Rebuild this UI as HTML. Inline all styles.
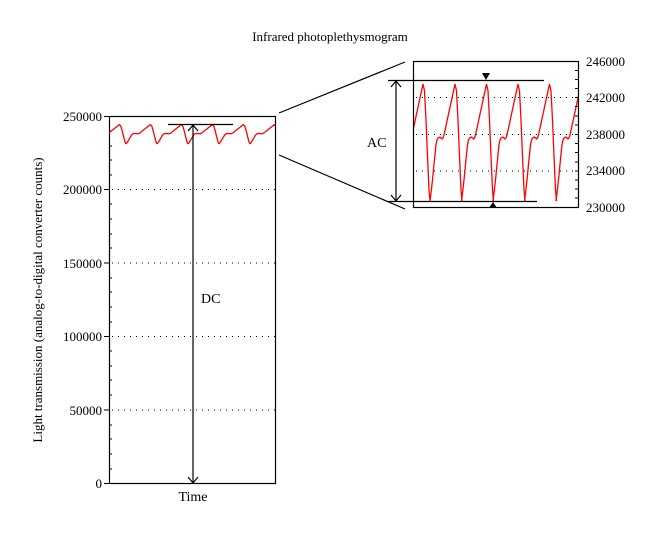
<!DOCTYPE html>
<html><head><meta charset="utf-8"><style>
body{margin:0;background:#fff}
text{font-family:"Liberation Serif",serif;fill:#000}
</style></head><body>
<svg width="660" height="533" xmlns="http://www.w3.org/2000/svg">
<defs>
<path id="w" d="M0,0 L1.5,-12 L3,-26 L4.5,-42 L6,-56 L7,-61 L8,-63 L10,-64 L12,-62 L13,-63 L14,-66 L25,-117 L26.5,-110 L28,-81 L29.5,-45 L31,-11 L32,0" fill="none" stroke="#f00" stroke-width="1.3" vector-effect="non-scaling-stroke"/>
<clipPath id="cl"><rect x="109" y="100" width="166" height="60"/></clipPath>
<clipPath id="cr"><rect x="413" y="61" width="165" height="147"/></clipPath>
</defs>
<text x="330" y="41" font-size="13" text-anchor="middle">Infrared photoplethysmogram</text>
<g stroke="#000" stroke-dasharray="1,5" stroke-width="1">
<line x1="112" y1="189.5" x2="275" y2="189.5"/><line x1="112" y1="263" x2="275" y2="263"/>
<line x1="112" y1="336.5" x2="275" y2="336.5"/><line x1="112" y1="410" x2="275" y2="410"/>
</g>
<rect x="109.5" y="116.5" width="166" height="367" fill="none" stroke="#000" stroke-width="1.2"/>
<g stroke="#000">
<line x1="104" y1="116.5" x2="109" y2="116.5"/><line x1="104" y1="189.5" x2="109" y2="189.5"/><line x1="104" y1="263" x2="109" y2="263"/><line x1="104" y1="336.5" x2="109" y2="336.5"/><line x1="104" y1="410" x2="109" y2="410"/><line x1="104" y1="483.5" x2="109" y2="483.5"/>
<path d="M109,131h3M109,146h3M109,160h3M109,175h3M109,204h3M109,219h3M109,234h3M109,248h3M109,278h3M109,292h3M109,307h3M109,322h3M109,351h3M109,366h3M109,380h3M109,395h3M109,425h3M109,439h3M109,454h3M109,469h3"/>
</g>
<g font-size="13" text-anchor="end">
<text x="102" y="121">250000</text><text x="102" y="194">200000</text><text x="102" y="268">150000</text>
<text x="102" y="341">100000</text><text x="102" y="415">50000</text><text x="102" y="488">0</text>
</g>
<g clip-path="url(#cl)">
<g transform="translate(64,144) scale(0.97,0.165)"><use href="#w"/></g>
<g transform="translate(95,144) scale(0.97,0.165)"><use href="#w"/></g>
<g transform="translate(126,144) scale(0.97,0.165)"><use href="#w"/></g>
<g transform="translate(157,144) scale(0.97,0.165)"><use href="#w"/></g>
<g transform="translate(188,144) scale(0.97,0.165)"><use href="#w"/></g>
<g transform="translate(219,144) scale(0.97,0.165)"><use href="#w"/></g>
<g transform="translate(250,144) scale(0.97,0.165)"><use href="#w"/></g>
</g>
<g stroke="#000" fill="none" stroke-width="1.2">
<line x1="168" y1="124.5" x2="233" y2="124.5"/>
<line x1="193" y1="125" x2="193" y2="483"/>
<path d="M188,131 L193,125 L198,131 M188,477 L193,483 L198,477"/>
</g>
<text x="201" y="303" font-size="14">DC</text>
<text x="193" y="501" font-size="14" text-anchor="middle">Time</text>
<text transform="translate(42,300) rotate(-90)" font-size="13" text-anchor="middle">Light transmission (analog-to-digital converter counts)</text>
<g stroke="#000" stroke-width="1.2">
<line x1="279" y1="113" x2="405" y2="62"/><line x1="279" y1="155" x2="405" y2="209"/>
</g>
<g stroke="#000" stroke-dasharray="1,5">
<line x1="416" y1="97.5" x2="578" y2="97.5"/><line x1="416" y1="134.5" x2="578" y2="134.5"/><line x1="416" y1="171" x2="578" y2="171"/>
</g>
<g clip-path="url(#cr)">
<use href="#w" transform="translate(398,201)"/>
<use href="#w" transform="translate(430,201)"/>
<use href="#w" transform="translate(461.5,201)"/>
<use href="#w" transform="translate(493,201)"/>
<use href="#w" transform="translate(524.5,201)"/>
<use href="#w" transform="translate(556,201)"/>
</g>
<rect x="413.5" y="61.5" width="165" height="146" fill="none" stroke="#000" stroke-width="1.2"/>
<g stroke="#000">
<path d="M575,70.5h3M575,79.5h3M575,88.5h3M575,97.5h3M575,106.5h3M575,116h3M575,125h3M575,134.5h3M575,143.5h3M575,152.5h3M575,162h3M575,171h3M575,180h3M575,189h3M575,198h3"/>
</g>
<g font-size="13">
<text x="586" y="66">246000</text><text x="586" y="102">242000</text><text x="586" y="139">238000</text>
<text x="586" y="175">234000</text><text x="586" y="212">230000</text>
</g>
<g stroke="#000" fill="none" stroke-width="1.2">
<line x1="388" y1="80.5" x2="544" y2="80.5"/>
<line x1="388" y1="201.5" x2="537" y2="201.5"/>
<line x1="396" y1="81" x2="396" y2="201"/>
<path d="M391,87 L396,81 L401,87 M391,195 L396,201 L401,195"/>
</g>
<path d="M482,73 L490,73 L486,80 Z M489,208 L497,208 L493,202 Z" fill="#000"/>
<text x="367" y="147" font-size="14">AC</text>
</svg>
</body></html>
